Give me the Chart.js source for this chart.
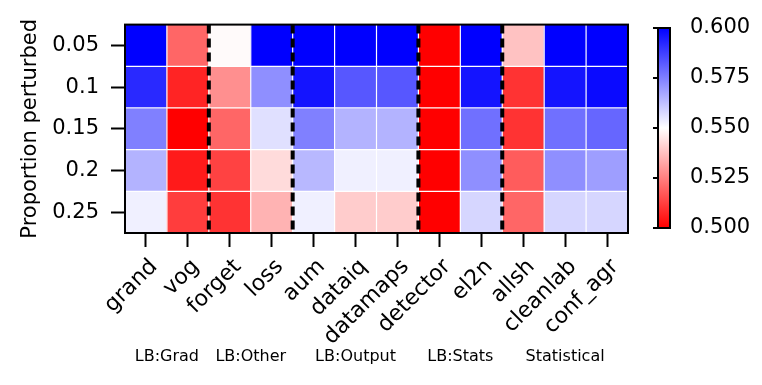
<!DOCTYPE html>
<html>
<head>
<meta charset="utf-8">
<script src="https://cdn.jsdelivr.net/npm/chart.js@4.4.0/dist/chart.umd.min.js"></script>
<style>
  body { margin: 0; background: #fff; }
  #wrap { position: relative; width: 762px; height: 385px; }
  #wrap canvas { position: absolute; left: 0; top: 0; }
</style>
</head>
<body>
<div id="wrap">
  <canvas id="heat" width="762" height="385"></canvas>
  <canvas id="cbar" width="762" height="385"></canvas>
</div>
<script>
// data
const methods = ['grand', 'vog', 'forget', 'loss', 'aum', 'dataiq', 'datamaps', 'detector', 'el2n', 'allsh', 'cleanlab', 'conf_agr'];
const proportions = ['0.05', '0.1', '0.15', '0.2', '0.25'];
const row005 = [0.600, 0.520, 0.549, 0.600, 0.600, 0.600, 0.600, 0.500, 0.600, 0.538, 0.600, 0.600];
const row010 = [0.592, 0.507, 0.528, 0.572, 0.596, 0.583, 0.583, 0.500, 0.596, 0.510, 0.596, 0.598];
const row015 = [0.575, 0.500, 0.520, 0.556, 0.575, 0.565, 0.565, 0.500, 0.578, 0.510, 0.578, 0.580];
const row020 = [0.565, 0.505, 0.513, 0.543, 0.564, 0.553, 0.553, 0.500, 0.572, 0.518, 0.572, 0.569];
const row025 = [0.553, 0.512, 0.510, 0.535, 0.553, 0.540, 0.540, 0.500, 0.558, 0.520, 0.558, 0.558];
const rows = [row005, row010, row015, row020, row025];
const groupNames = ['LB:Grad', 'LB:Other', 'LB:Output', 'LB:Stats', 'Statistical'];
const groupSizes = [2, 2, 3, 2, 3];
const vmin = 0.5;
const vmax = 0.6;
const cbarTicks = [0.5, 0.525, 0.55, 0.575, 0.6];

const FONT = 'DejaVu Sans';

// matplotlib bwr, reversed (low = red, high = blue)
function bwrR(v) {
    let t = (v - vmin) / (vmax - vmin);
    t = Math.max(0, Math.min(1, t));
    if (t >= 0.5) {
        const c = Math.round(255 * (1 - (t - 0.5) * 2));
        return `rgb(${c},${c},255)`;
    }
    const c = Math.round(255 * (1 - (0.5 - t) * 2));
    return `rgb(255,${c},${c})`;
}

const datasets = rows.map((vals, r) => ({
    label: proportions[r],
    data: vals.map(() => [r, r + 1]),
    backgroundColor: vals.map(bwrR),
    borderWidth: 0,
    grouped: false,
    barPercentage: 1,
    categoryPercentage: 1,
}));

const heatDecor = {
    id: 'heatDecor',
    afterDatasetsDraw(chart) {
        const { ctx, chartArea: a, scales: { x, y } } = chart;
        const colW = (a.right - a.left) / methods.length;
        ctx.save();
        // white cell edges
        ctx.strokeStyle = '#fff';
        ctx.lineWidth = 1.2;
        for (let i = 1; i < methods.length; i++) {
            const px = a.left + colW * i;
            ctx.beginPath(); ctx.moveTo(px, a.top); ctx.lineTo(px, a.bottom); ctx.stroke();
        }
        for (let r = 1; r < proportions.length; r++) {
            const py = y.getPixelForValue(r);
            ctx.beginPath(); ctx.moveTo(a.left, py); ctx.lineTo(a.right, py); ctx.stroke();
        }
        // dashed group separators
        ctx.strokeStyle = '#000';
        ctx.lineWidth = 4;
        ctx.setLineDash([9, 5]);
        let idx = 0;
        for (let g = 0; g < groupSizes.length - 1; g++) {
            idx += groupSizes[g];
            const px = a.left + colW * idx;
            ctx.beginPath(); ctx.moveTo(px, a.top); ctx.lineTo(px, a.bottom); ctx.stroke();
        }
        ctx.setLineDash([]);
        // frame
        ctx.lineWidth = 2;
        ctx.strokeRect(a.left, a.top, a.right - a.left, a.bottom - a.top);
        ctx.restore();
    },
    afterDraw(chart) {
        const { ctx, chartArea: a } = chart;
        const colW = (a.right - a.left) / methods.length;
        ctx.save();
        ctx.fillStyle = '#000';
        ctx.font = `16px ${FONT}`;
        ctx.textAlign = 'center';
        ctx.textBaseline = 'middle';
        let start = 0;
        groupNames.forEach((name, g) => {
            const cx = a.left + colW * (start + groupSizes[g] / 2);
            ctx.fillText(name, cx, a.bottom + 124);
            start += groupSizes[g];
        });
        ctx.restore();
    }
};

new Chart(document.getElementById('heat'), {
    type: 'bar',
    data: { labels: methods, datasets: datasets },
    options: {
        responsive: false,
        devicePixelRatio: 1,
        animation: false,
        layout: { padding: { left: 0, right: 134, top: 23, bottom: 0 } },
        plugins: { legend: { display: false }, tooltip: { enabled: false } },
        scales: {
            x: {
                type: 'category',
                offset: true,
                border: { display: false },
                grid: { offset: false, drawOnChartArea: false, drawTicks: true, tickLength: 14, tickWidth: 2, tickColor: '#000' },
                ticks: { autoSkip: false, minRotation: 45, maxRotation: 45, labelOffset: 8, color: '#000', padding: 7, font: { family: FONT, size: 22 } },
                afterFit(scale) { scale.height = 152; }
            },
            y: {
                type: 'linear',
                min: 0,
                max: proportions.length,
                reverse: true,
                border: { display: false },
                grid: { drawOnChartArea: false, drawTicks: true, tickLength: 14, tickWidth: 2, tickColor: '#000' },
                afterBuildTicks(scale) {
                    scale.ticks = proportions.map((p, i) => ({ value: i + 0.5 }));
                },
                ticks: {
                    color: '#000',
                    padding: 12,
                    font: { family: FONT, size: 21 },
                    callback: (v, i) => proportions[i]
                },
                title: { display: true, text: 'Proportion perturbed', color: '#000', padding: { top: 18, bottom: 0 }, font: { family: FONT, size: 21 } },
                afterFit(scale) { scale.width = 125; }
            }
        }
    },
    plugins: [heatDecor]
});

// colorbar
const cbarDecor = {
    id: 'cbarDecor',
    afterDatasetsDraw(chart) {
        const { ctx, chartArea: a, scales: { y } } = chart;
        ctx.save();
        ctx.strokeStyle = '#000';
        ctx.lineWidth = 2;
        ctx.strokeRect(a.left, a.top, a.right - a.left, a.bottom - a.top);
        cbarTicks.forEach(t => {
            const py = y.getPixelForValue(t);
            ctx.beginPath(); ctx.moveTo(a.left - 5, py); ctx.lineTo(a.left, py); ctx.stroke();
        });
        ctx.restore();
    }
};

new Chart(document.getElementById('cbar'), {
    type: 'bar',
    data: {
        labels: [''],
        datasets: [{
            data: [[vmin, vmax]],
            borderWidth: 0,
            barPercentage: 1,
            categoryPercentage: 1,
            backgroundColor(context) {
                const area = context.chart.chartArea;
                if (!area) return 'white';
                const g = context.chart.ctx.createLinearGradient(0, area.bottom, 0, area.top);
                g.addColorStop(0, bwrR(vmin));
                g.addColorStop(0.5, bwrR((vmin + vmax) / 2));
                g.addColorStop(1, bwrR(vmax));
                return g;
            }
        }]
    },
    options: {
        responsive: false,
        devicePixelRatio: 1,
        animation: false,
        layout: { padding: { left: 658, right: 0, top: 28, bottom: 157 } },
        plugins: { legend: { display: false }, tooltip: { enabled: false } },
        scales: {
            x: { display: false },
            y: {
                type: 'linear',
                position: 'right',
                min: vmin,
                max: vmax,
                border: { display: false },
                grid: { display: false },
                afterBuildTicks(scale) {
                    scale.ticks = cbarTicks.map(v => ({ value: v }));
                },
                ticks: {
                    color: '#000',
                    padding: 12,
                    font: { family: FONT, size: 21 },
                    callback: v => v.toFixed(3)
                },
                afterFit(scale) { scale.width = 92; }
            }
        }
    },
    plugins: [cbarDecor]
});
</script>
</body>
</html>
